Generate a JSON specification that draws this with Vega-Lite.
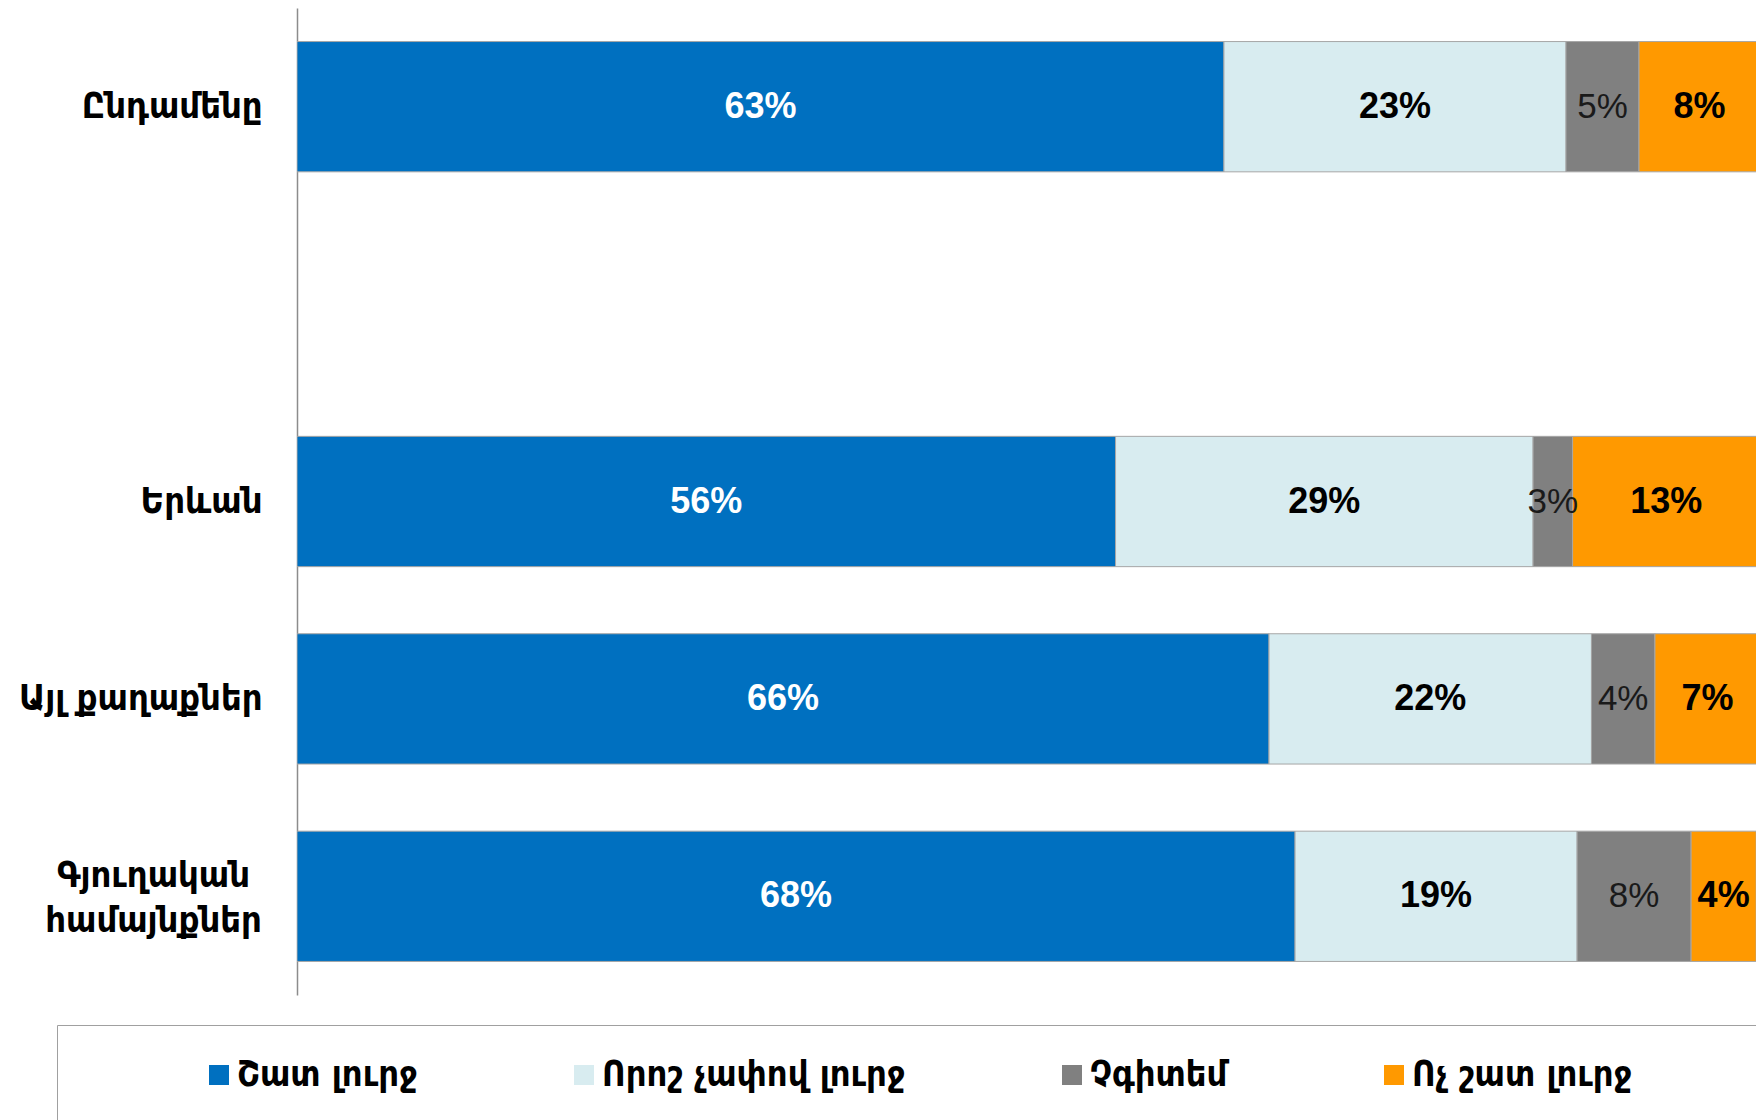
{
  "$schema": "https://vega.github.io/schema/vega-lite/v6.json",
  "width": 1459,
  "height": 987,
  "autosize": {"type": "none"},
  "padding": {"left": 297, "top": 8, "right": 0, "bottom": 125},
  "background": "white",
  "config": {"view": {"stroke": null}},
  "data": {
    "values": [
      {"region": "Ընդամենը", "cat": "Շատ լուրջ", "ord": 1, "value": 0.6336},
      {"region": "Ընդամենը", "cat": "Որոշ չափով լուրջ", "ord": 2, "value": 0.2338},
      {"region": "Ընդամենը", "cat": "Չգիտեմ", "ord": 3, "value": 0.0499},
      {"region": "Ընդամենը", "cat": "Ոչ շատ լուրջ", "ord": 4, "value": 0.0827},
      {"region": "Երևան", "cat": "Շատ լուրջ", "ord": 1, "value": 0.5595},
      {"region": "Երևան", "cat": "Որոշ չափով լուրջ", "ord": 2, "value": 0.2854},
      {"region": "Երևան", "cat": "Չգիտեմ", "ord": 3, "value": 0.0270},
      {"region": "Երևան", "cat": "Ոչ շատ լուրջ", "ord": 4, "value": 0.1281},
      {"region": "Այլ քաղաքներ", "cat": "Շատ լուրջ", "ord": 1, "value": 0.6644},
      {"region": "Այլ քաղաքներ", "cat": "Որոշ չափով լուրջ", "ord": 2, "value": 0.2204},
      {"region": "Այլ քաղաքներ", "cat": "Չգիտեմ", "ord": 3, "value": 0.0434},
      {"region": "Այլ քաղաքներ", "cat": "Ոչ շատ լուրջ", "ord": 4, "value": 0.0718},
      {"region": "Գյուղական համայնքներ", "cat": "Շատ լուրջ", "ord": 1, "value": 0.6822},
      {"region": "Գյուղական համայնքներ", "cat": "Որոշ չափով լուրջ", "ord": 2, "value": 0.1928},
      {"region": "Գյուղական համայնքներ", "cat": "Չգիտեմ", "ord": 3, "value": 0.0779},
      {"region": "Գյուղական համայնքներ", "cat": "Ոչ շատ լուրջ", "ord": 4, "value": 0.0445}
    ]
  },
  "encoding": {
    "y": {
      "field": "region",
      "type": "nominal",
      "title": null,
      "scale": {
        "domain": ["Ընդամենը", " ", "Երևան", "Այլ քաղաքներ", "Գյուղական համայնքներ"],
        "paddingInner": 0.34,
        "paddingOuter": 0.17
      },
      "axis": {
        "ticks": false,
        "tickSize": 0,
        "domain": true,
        "domainColor": "#8C8C8C",
        "domainWidth": 1.5,
        "labelFont": "DejaVu Sans Condensed, DejaVu Sans",
        "labelFontSize": 36,
        "labelFontWeight": "bold",
        "labelColor": "black",
        "labelLimit": 500,
        "labelLineHeight": 45,
        "labelAlign": {"condition": {"test": "datum.value === 'Գյուղական համայնքներ'", "value": "center"}, "value": "right"},
        "labelPadding": {"condition": {"test": "datum.value === 'Գյուղական համայնքներ'", "value": 144}, "value": 35},
        "labelOffset": {"condition": {"test": "datum.value === 'Գյուղական համայնքներ'", "value": -20}, "value": 0},
        "labelExpr": "datum.value === 'Գյուղական համայնքներ' ? ['Գյուղական', 'համայնքներ'] : datum.value"
      }
    }
  },
  "layer": [
    {
      "mark": {"type": "bar", "stroke": "#A6A6A6", "strokeWidth": 1, "clip": true},
      "encoding": {
        "x": {"field": "value", "type": "quantitative", "stack": "zero", "scale": {"domain": [0, 0.99727]}, "axis": null},
        "color": {
          "field": "cat",
          "type": "nominal",
          "scale": {
            "domain": ["Շատ լուրջ", "Որոշ չափով լուրջ", "Չգիտեմ", "Ոչ շատ լուրջ"],
            "range": ["#0070C0", "#D8ECF0", "#808080", "#FF9900"]
          },
          "legend": {
            "orient": "none",
            "legendX": -240,
            "legendY": 1017,
            "direction": "horizontal",
            "columns": 4,
            "title": "\u00a0",
            "titleOrient": "left",
            "titleFontSize": 1,
            "titlePadding": 112,
            "padding": 32,
            "strokeColor": "#A0A0A0",
            "symbolType": "square",
            "symbolSize": 400,
            "symbolStrokeWidth": 0,
            "labelFont": "DejaVu Sans Condensed, DejaVu Sans",
            "labelFontSize": 36,
            "labelFontWeight": "bold",
            "labelColor": "black",
            "labelOffset": 0,
            "columnPadding": 148,
            "labelLimit": 800,
            "labelExpr": "datum.index == 3 ? datum.label + '\u2800\u2800\u2800\u2800' : datum.label"
          }
        },
        "order": {"field": "ord", "type": "quantitative"}
      }
    },
    {
      "transform": [
        {"stack": "value", "groupby": ["region"], "sort": [{"field": "ord", "order": "ascending"}], "as": ["v0", "v1"]},
        {"fold": ["v0", "v1"], "as": ["k", "pos"]}
      ],
      "mark": {"type": "text", "font": "Liberation Sans", "fontSize": 36, "fontWeight": "bold", "baseline": "middle", "align": "center"},
      "encoding": {
        "x": {"aggregate": "mean", "field": "pos", "type": "quantitative", "stack": null, "scale": {"domain": [0, 0.99727]}},
        "detail": {"field": "cat", "type": "nominal"},
        "text": {"aggregate": "max", "field": "value", "type": "quantitative", "format": ".0%"},
        "color": {"condition": {"test": "datum.cat === 'Շատ լուրջ'", "value": "white"}, "value": "black"},
        "opacity": {"condition": {"test": "datum.cat === 'Չգիտեմ'", "value": 0}, "value": 1}
      }
    },
    {
      "transform": [
        {"stack": "value", "groupby": ["region"], "sort": [{"field": "ord", "order": "ascending"}], "as": ["v0", "v1"]},
        {"fold": ["v0", "v1"], "as": ["k", "pos"]}
      ],
      "mark": {"type": "text", "font": "Liberation Sans", "fontSize": 35, "fontWeight": "normal", "baseline": "middle", "align": "center", "color": "#1a1a1a"},
      "encoding": {
        "x": {"aggregate": "mean", "field": "pos", "type": "quantitative", "stack": null, "scale": {"domain": [0, 0.99727]}},
        "detail": {"field": "cat", "type": "nominal"},
        "text": {"aggregate": "max", "field": "value", "type": "quantitative", "format": ".0%"},
        "opacity": {"condition": {"test": "datum.cat === 'Չգիտեմ'", "value": 1}, "value": 0}
      }
    }
  ]
}
